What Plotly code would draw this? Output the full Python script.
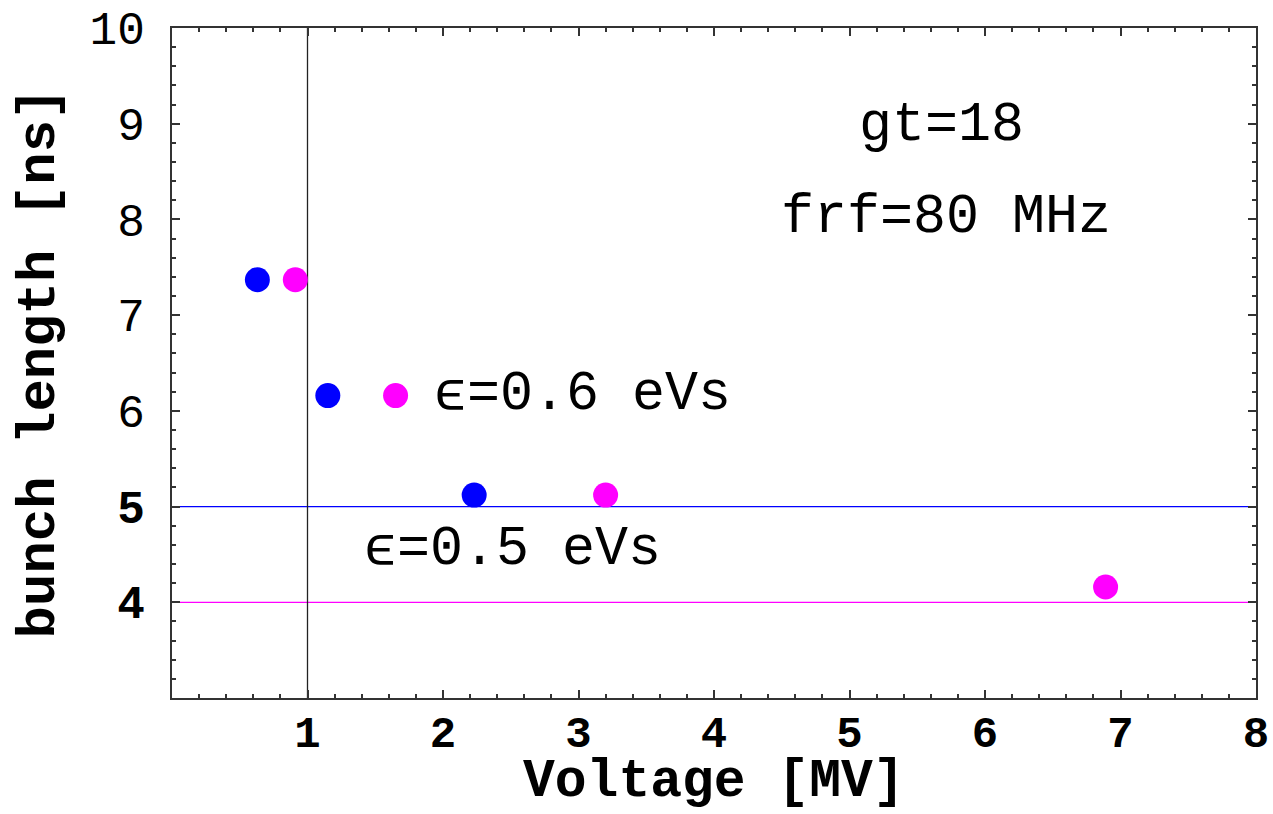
import plotly.graph_objects as go

# Bunch length vs RF voltage, two longitudinal emittances
eps06_voltage = [0.63, 1.15, 2.23]
eps06_length = [7.37, 6.16, 5.12]
eps05_voltage = [0.91, 1.65, 3.20, 6.89]
eps05_length = [7.37, 6.16, 5.12, 4.16]

# Reference lines
limit_blue = 5.0
limit_magenta = 4.0
voltage_ref = 1.0

x_ticks = [1, 2, 3, 4, 5, 6, 7, 8]
y_ticks = [4, 5, 6, 7, 8, 9, 10]
y_ticktext = ["<b>4</b>", "<b>5</b>", "6", "7", "8", "9", "10"]

FONT = "Liberation Mono, Courier New, monospace"
BLUE = "#0000FF"
MAGENTA = "#FF00FF"

fig = go.Figure()

# horizontal and vertical guide lines
fig.add_trace(go.Scatter(x=[0, 8], y=[limit_blue, limit_blue], mode="lines",
                         line=dict(color=BLUE, width=1.3), hoverinfo="skip"))
fig.add_trace(go.Scatter(x=[0, 8], y=[limit_magenta, limit_magenta], mode="lines",
                         line=dict(color=MAGENTA, width=1.3), hoverinfo="skip"))
fig.add_trace(go.Scatter(x=[voltage_ref, voltage_ref], y=[3, 10], mode="lines",
                         line=dict(color="#222222", width=1.3), hoverinfo="skip"))

fig.add_trace(go.Scatter(x=eps06_voltage, y=eps06_length, mode="markers",
                         marker=dict(color=BLUE, size=25, line=dict(width=0))))
fig.add_trace(go.Scatter(x=eps05_voltage, y=eps05_length, mode="markers",
                         marker=dict(color=MAGENTA, size=25, line=dict(width=0))))

txt = dict(family=FONT, size=55, color="black")
fig.add_annotation(x=1.92, y=6.17, text="ϵ=0.6 eVs", xanchor="left", yanchor="middle",
                   showarrow=False, font=txt)
fig.add_annotation(x=1.40, y=4.55, text="ϵ=0.5 eVs", xanchor="left", yanchor="middle",
                   showarrow=False, font=txt)
fig.add_annotation(x=5.68, y=8.98, text="gt=18", xanchor="center", yanchor="middle",
                   showarrow=False, font=txt)
fig.add_annotation(x=5.71, y=8.02, text="frf=80 MHz", xanchor="center", yanchor="middle",
                   showarrow=False, font=txt)

# x-axis title anchored to the bottom of the page
fig.add_annotation(x=0.5, xref="paper", y=0, yref="paper", yanchor="bottom", yshift=-115,
                   borderpad=0, text="<b>Voltage [MV]</b>", showarrow=False,
                   font=dict(family=FONT, size=53, color="black"))

axis_common = dict(
    showgrid=False, zeroline=False, showline=True, linecolor="#333333", linewidth=2,
    mirror="ticks", ticks="inside", ticklen=8, tickwidth=1.5, tickcolor="#333333",
)

fig.update_xaxes(
    range=[0, 8], tickvals=x_ticks, ticktext=[str(v) for v in x_ticks],
    tickfont=dict(family=FONT, size=44, color="black", weight="bold"),
    ticklabelstandoff=-6,
    minor=dict(ticks="inside", tick0=0, dtick=0.2, ticklen=4, tickwidth=1.5, tickcolor="#333333"),
    **axis_common,
)
fig.update_yaxes(
    range=[3, 10], tickvals=y_ticks, ticktext=y_ticktext,
    tickfont=dict(family=FONT, size=46, color="black"),
    ticklabelstandoff=16,
    minor=dict(ticks="inside", tick0=0, dtick=0.2, ticklen=4, tickwidth=1.5, tickcolor="#333333"),
    title=dict(text="<b>bunch length [ns]</b>", font=dict(family=FONT, size=54, color="black"), standoff=18),
    **axis_common,
)

fig.update_layout(
    width=1273, height=814,
    margin=dict(l=172, r=17, t=28, b=116, autoexpand=False),
    paper_bgcolor="white", plot_bgcolor="white",
    showlegend=False,
)

fig.write_html("out.html")
